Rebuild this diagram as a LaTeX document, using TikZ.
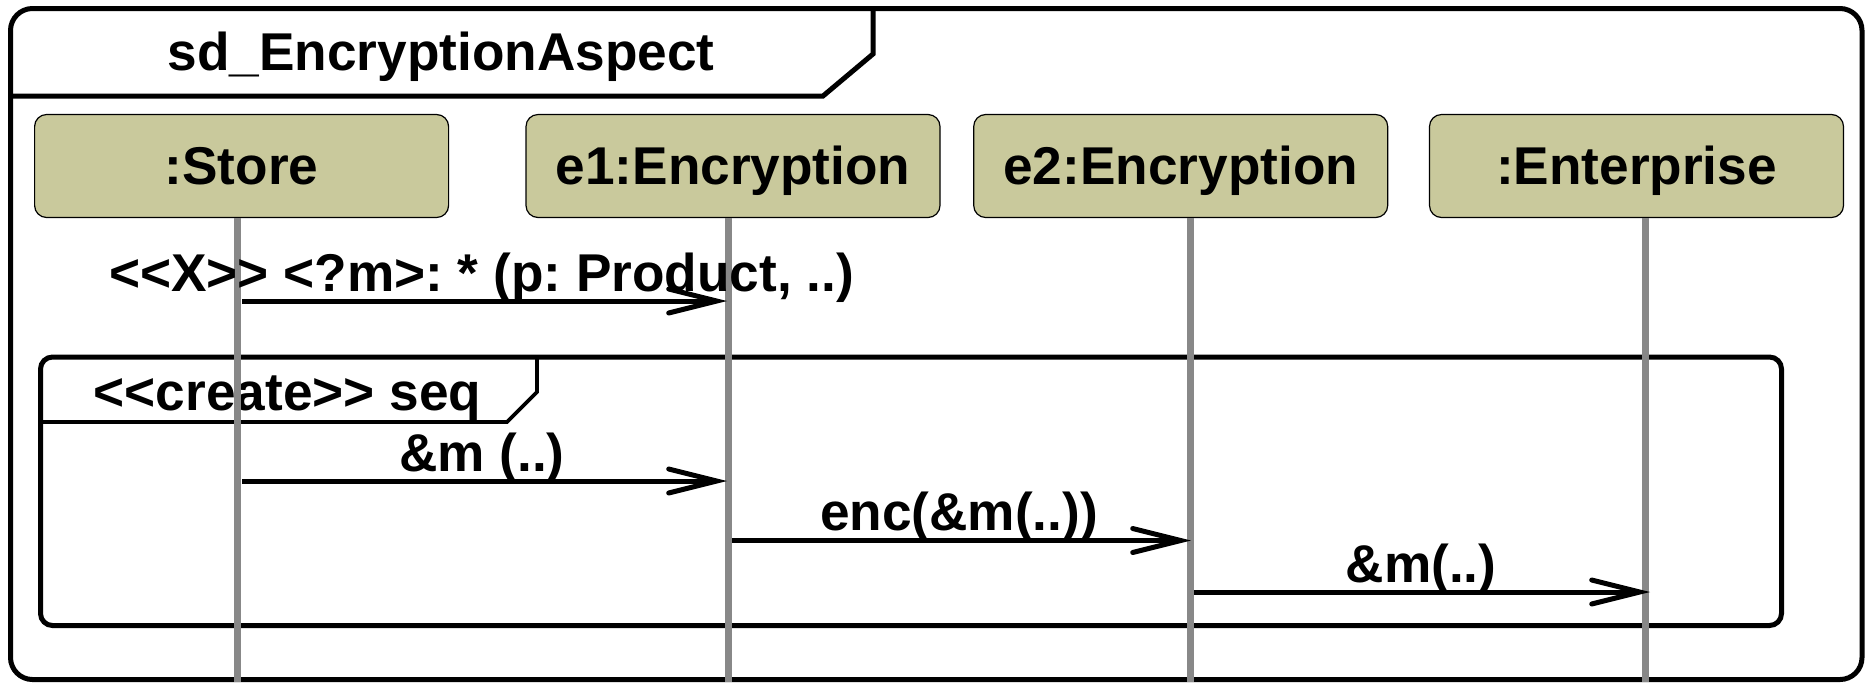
\documentclass[tikz,border=0pt]{standalone}
\usepackage{fontspec}
\setmainfont{Liberation Sans}
\usetikzlibrary{arrows.meta}
\definecolor{lifebox}{RGB}{201,201,156}
\definecolor{lifegray}{RGB}{136,136,136}
% keep pairs of angle brackets apart so they are not merged into guillemets
\newcommand{\dlt}{<\kern0pt<}
\newcommand{\dgt}{>\kern0pt>}
\tikzset{
  lbl/.style={font=\fontsize{26.6}{30}\selectfont\bfseries\frenchspacing, inner sep=0pt, anchor=base},
  headbox/.style={draw=black, line width=0.6pt, fill=lifebox, rounded corners=6pt,
    minimum width=207pt, minimum height=51.5pt, inner sep=0pt},
  lifeline/.style={draw=lifegray, line width=3.5pt},
  frameline/.style={draw=black, line width=2.5pt},
  msg/.style={draw=black, line width=2.5pt,
    -{Straight Barb[length=24pt, width=12pt, line width=2.5pt, line cap=round]}},
}
\begin{document}
\begin{tikzpicture}[x=0.5pt, y=-0.5pt]
  \useasboundingbox (0,0) rectangle (1871,682);
  \fill[white] (0,0) rectangle (1871,682);

  % outer sequence diagram frame and its name tab
  \draw[frameline, rounded corners=11pt] (10.5,8.5) rectangle (1862,679.5);
  \draw[frameline] (10.5,96) -- (823,96) -- (873,54) -- (873,8.5);
  \node[lbl] (title) at (441,70) {sd\_EncryptionAspect};

  % lifeline heads
  \node[headbox] (store) at (241.6,166) {};
  \node[headbox] (e1) at (733,166) {};
  \node[headbox] (e2) at (1180.7,166) {};
  \node[headbox] (ent) at (1636.5,166) {};
  \node[lbl] at (241.6,184.5) {:Store};
  \node[lbl] at (733,184.5) {e1:Encryption};
  \node[lbl] at (1180.7,184.5) {e2:Encryption};
  \node[lbl] at (1636.5,184.5) {:Enterprise};

  % lifeline anchors
  \coordinate (sTop) at (237,218);   \coordinate (sBot) at (237,682);
  \coordinate (aTop) at (728.5,218); \coordinate (aBot) at (728.5,682);
  \coordinate (bTop) at (1190.5,218);\coordinate (bBot) at (1190.5,682);
  \coordinate (cTop) at (1645.5,218);\coordinate (cBot) at (1645.5,682);

  % combined fragment
  \draw[frameline, rounded corners=6pt] (40.5,357) rectangle (1781.5,625.5);
  \draw[draw=black, line width=1.8pt] (40.5,422) -- (507,422) -- (537,392) -- (537,357);
  \node[lbl] (seq) at (287.6,410) {\dlt create\dgt\ seq};

  % lifelines
  \draw[lifeline] (sTop) -- (sBot);
  \draw[lifeline] (aTop) -- (aBot);
  \draw[lifeline] (bTop) -- (bBot);
  \draw[lifeline] (cTop) -- (cBot);

  % messages
  \coordinate (m1s) at (242,301);  \coordinate (m1e) at (727,301);
  \coordinate (m2s) at (242,481);  \coordinate (m2e) at (727,481);
  \coordinate (m3s) at (732,540.5);\coordinate (m3e) at (1191,540.5);
  \coordinate (m4s) at (1194,592); \coordinate (m4e) at (1650,592);
  \draw[msg] (m1s) -- (m1e);
  \draw[msg] (m2s) -- (m2e);
  \draw[msg] (m3s) -- (m3e);
  \draw[msg] (m4s) -- (m4e);
  \node[lbl] at (481.5,291) {\dlt X\dgt\ <?m>: * (p: Product, ..)};
  \node[lbl] at (482,471) {\&m (..)};
  \node[lbl] at (959,530) {enc(\&m(..))};
  \node[lbl] at (1421,582) {\&m(..)};
\end{tikzpicture}
\end{document}
